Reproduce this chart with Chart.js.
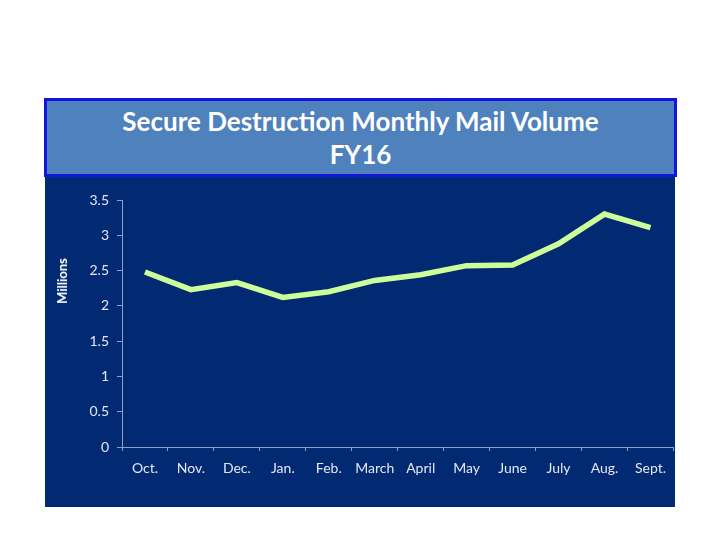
<!DOCTYPE html>
<html>
<head>
<meta charset="utf-8">
<script src="https://cdn.jsdelivr.net/npm/chart.js@4/dist/chart.umd.min.js"></script>
<style>
  body { margin: 0; background: #fff; width: 720px; height: 540px; position: relative; overflow: hidden; }
  #titleBox {
    position: absolute; left: 44px; top: 98px; width: 627px; height: 69px;
    background: #4f81bd; border: 3px solid #1414dc;
    color: #fff; font-family: Lato, "Open Sans", sans-serif; font-weight: bold;
    font-size: 26px; line-height: 33px; text-align: center; padding-top: 4px;
    box-sizing: content-box;
  }
  #panel { position: absolute; left: 45px; top: 174px; width: 630px; height: 333px; background: #022a72; }
  #yTitle {
    position: absolute; left: 62px; top: 281px; transform: translate(-50%, -50%) rotate(-90deg);
    color: #fff; font-family: Lato, "Open Sans", sans-serif; font-weight: bold; font-size: 13px;
    white-space: nowrap;
  }
</style>
</head>
<body>
<div id="panel"><canvas id="myChart" width="630" height="333"></canvas></div>
<div id="titleBox">Secure Destruction Monthly Mail Volume<br>FY16</div>
<div id="yTitle">Millions</div>
<script>
const months = ['Oct.', 'Nov.', 'Dec.', 'Jan.', 'Feb.', 'March', 'April', 'May', 'June', 'July', 'Aug.', 'Sept.'];
const volume = [2.48, 2.23, 2.33, 2.12, 2.20, 2.36, 2.44, 2.57, 2.58, 2.88, 3.30, 3.11];
const yTicks = [0, 0.5, 1, 1.5, 2, 2.5, 3, 3.5];

const tickFont = { family: 'Lato, "Open Sans", sans-serif', size: 14 };

const data = {
  labels: months,
  datasets: [{
    label: 'Mail volume',
    borderColor: '#ccff99',
    backgroundColor: '#ccff99',
    borderWidth: 5.5,
    pointRadius: 0,
    tension: 0,
    fill: false,
    data: volume,
  }]
};

const config = {
  type: 'line',
  data: data,
  options: {
    responsive: false,
    animation: false,
    layout: { padding: { top: 26, right: 1, bottom: 0, left: 0 } },
    plugins: { legend: { display: false }, tooltip: { enabled: false } },
    scales: {
      x: {
        offset: true,
        grid: { offset: true, drawOnChartArea: false, color: '#8fa0c8', tickLength: 4 },
        border: { color: '#8fa0c8' },
        ticks: { color: '#e4e8f2', font: tickFont, padding: 9, maxRotation: 0, autoSkip: false },
        afterFit: scale => { scale.height = 60; }
      },
      y: {
        min: 0,
        max: 3.5,
        afterBuildTicks: scale => { scale.ticks = yTicks.map(v => ({ value: v })); },
        grid: { drawOnChartArea: false, color: '#8fa0c8', tickLength: 5 },
        border: { color: '#8fa0c8' },
        ticks: { color: '#e4e8f2', font: tickFont, padding: 8, callback: v => String(v) },
        afterFit: scale => { scale.width = 77; }
      }
    }
  }
};

const lineChart = new Chart(document.getElementById('myChart').getContext('2d'), config);
</script>
</body>
</html>
